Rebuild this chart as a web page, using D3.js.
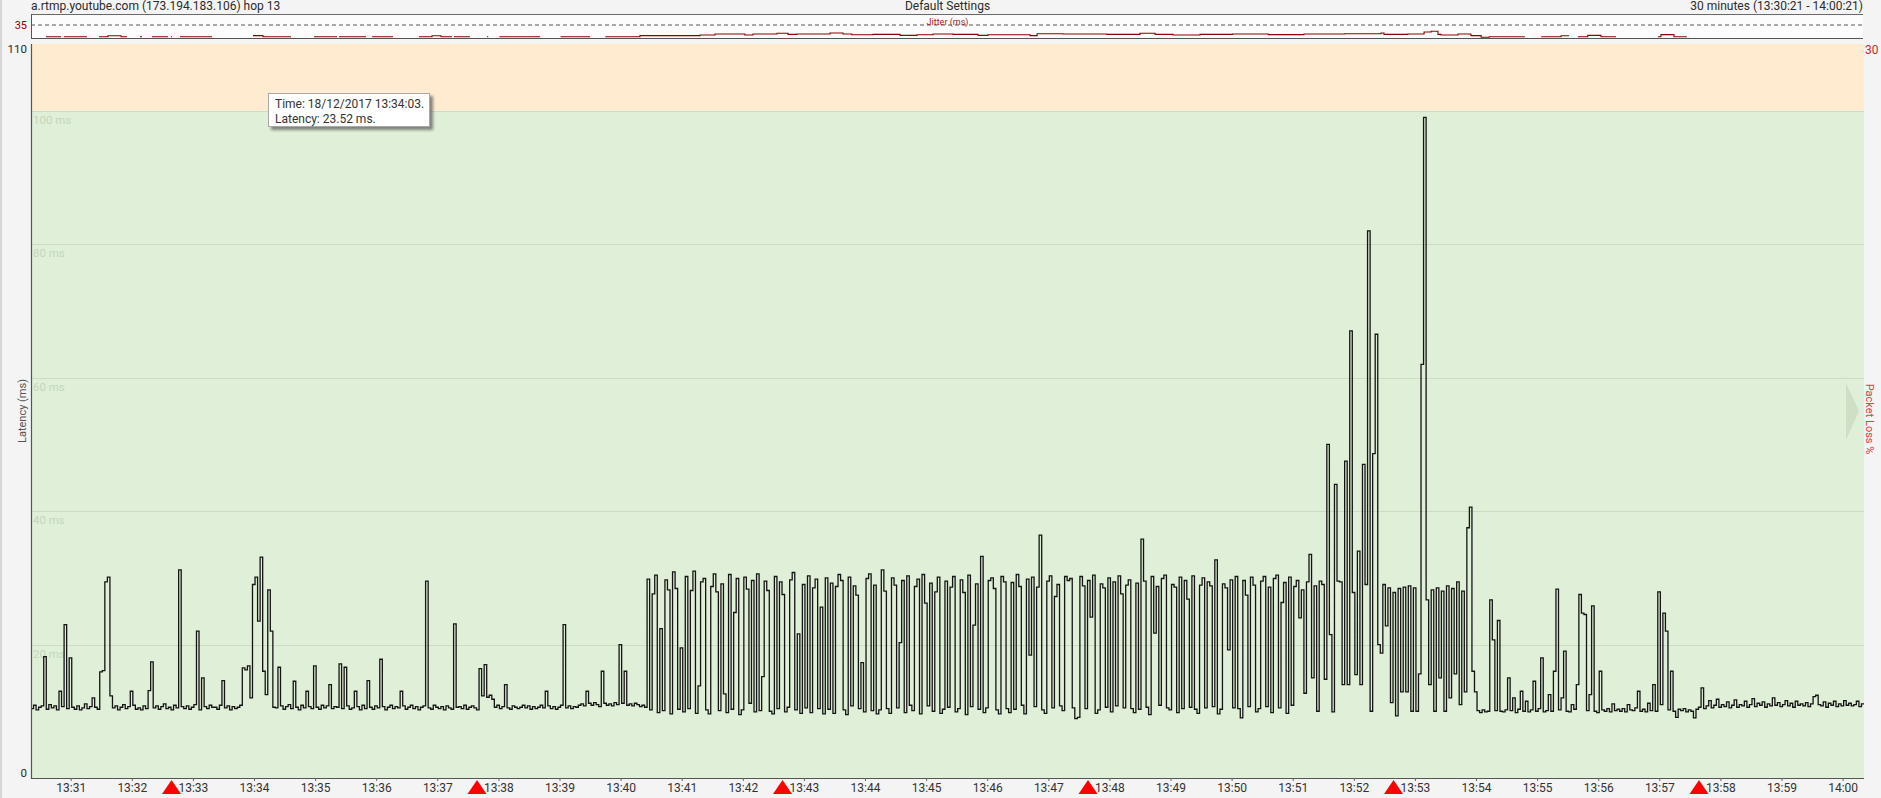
<!DOCTYPE html>
<html>
<head>
<meta charset="utf-8">
<script src="https://cdn.jsdelivr.net/npm/d3@7"></script>
<style>
  html, body { margin: 0; padding: 0; background: #f4f4f4; }
  svg { display: block; font-family: Roboto, "Noto Sans", sans-serif; }
</style>
</head>
<body>
<svg id="chart" width="1881" height="798"></svg>
<script>
// latency samples, one row per minute starting 13:30:21 (2.5 s steps)
const latencyA = [
  [10.4,10.9,10.2,10.6,10.8,18.2,10.3,11.0,10.5,10.8,10.2,13.0,10.7,23.0,10.4,18.0,10.6,10.3,10.8,10.2,10.5,11.1,10.4,10.7],
  [12.0,10.6,10.3,15.9,16.1,29.4,30.1,12.3,10.5,10.8,10.2,10.6,11.0,10.4,10.7,13.0,10.9,10.3,10.5,10.2,10.8,10.4,13.1,17.4],
  [10.5,10.8,10.3,10.7,11.1,10.4,10.6,10.2,10.9,10.5,31.2,10.7,10.4,10.8,10.3,10.6,11.0,22.0,10.2,15.0,10.7,10.4,10.9,10.6],
  [10.6,10.3,10.9,14.6,10.5,10.8,10.2,10.7,10.4,10.6,10.9,16.5,16.2,16.8,12.0,29.0,30.1,23.52,33.1,16.0,12.5,28.2,22.0,10.6],
  [10.5,16.6,10.8,10.3,10.7,11.0,10.4,14.5,10.6,10.2,10.9,10.5,13.0,10.7,10.4,16.8,10.6,10.3,10.9,10.5,10.8,14.0,10.4,10.7],
  [10.6,17.1,10.4,16.6,10.8,10.3,10.5,13.0,10.7,10.2,10.9,10.4,14.6,10.6,10.3,10.8,10.5,17.8,10.7,10.2,10.6,10.9,10.4,10.7],
  [10.5,13.0,10.8,10.3,10.6,10.9,10.4,10.7,10.2,10.6,10.8,29.5,10.5,10.3,10.9,10.6,10.4,10.7,10.2,10.8,10.5,10.3,23.1,10.6],
  [10.7,10.4,10.9,10.3,10.6,10.8,10.5,10.2,16.4,12.3,17.0,12.1,12.4,11.8,10.6,10.9,10.4,10.7,14.0,10.5,10.3,10.8,10.6,10.4],
  [10.6,10.9,10.5,10.8,10.3,10.7,10.4,10.6,10.9,10.5,13.0,10.8,10.4,10.7,10.3,10.6,10.9,23.0,10.5,10.8,10.4,10.7,10.6,10.9],
  [11.1,10.8,13.0,11.2,10.9,11.3,11.0,10.7,16.0,11.2,10.9,11.1,10.8,11.3,11.0,20.0,11.2,16.0,10.9,11.1,10.8,11.2,11.0,10.7]
];
const latencyB = [
  [10.9,10.6,29.8,10.2,27.6,30.4,9.8,22.4,10.1,29.7,28.2,9.6,30.9,28.4,10.3,19.5,9.9,30.2,10.4,28.1,31.0,9.7,13.8,29.4],
  [29.9,10.2,9.6,28.7,30.6,27.9,10.1,29.1,12.6,9.8,30.5,10.3,24.8,29.9,9.5,10.2,30.1,28.3,11.2,29.6,9.9,30.6,10.1,15.2],
  [29.5,28.1,10.0,9.6,30.2,10.4,29.4,27.5,9.9,10.6,29.7,30.8,10.2,21.6,9.7,29.0,10.5,30.3,9.8,28.5,29.8,10.4,25.6,9.6],
  [30.0,10.3,29.2,9.7,28.7,30.5,29.6,10.2,9.5,30.1,10.8,28.8,27.4,10.4,17.3,9.9,29.9,30.6,10.1,28.9,9.6,10.2,31.2,28.0],
  [10.4,9.7,30.0,28.9,10.5,20.3,29.6,9.8,30.3,10.9,10.1,28.7,29.8,9.6,30.5,26.2,10.8,29.2,10.0,27.9,30.1,9.7,10.3,29.5],
  [10.6,28.6,30.2,9.9,10.4,29.7,27.8,9.5,30.4,10.7,22.9,29.1,10.3,33.2,9.8,10.5,29.6,30.0,28.4,10.2,9.6,30.2,29.4,10.4],
  [9.8,29.3,10.3,30.5,28.7,10.9,9.6,29.8,18.4,30.1,10.7,28.6,36.4,10.2,9.7,29.5,30.3,10.5,27.2,29.0,10.8,10.1,30.2,29.6],
  [29.9,10.5,8.9,9.1,30.2,28.8,10.4,29.6,24.1,30.4,9.7,10.2,29.1,28.5,10.6,30.0,9.9,29.4,10.8,30.3,27.6,10.5,28.9,29.7],
  [10.4,9.8,29.2,10.3,35.8,29.5,10.6,9.5,30.2,21.7,28.7,10.9,29.9,30.4,10.5,10.2,29.0,28.6,9.8,30.1,10.4,29.6,26.8,10.6],
  [30.3,10.3,9.7,28.9,30.0,10.5,29.4,28.8,10.7,32.7,9.6,10.3,29.1,28.5,19.2,29.7,10.5,30.2,10.4,9.0,29.6,27.4,10.7,30.1]
];
const latencyC = [
  [28.9,9.9,10.4,29.5,30.2,10.7,28.6,9.8,29.9,30.4,10.5,26.3,29.3,9.7,30.1,10.9,28.7,29.6,24.0,28.2,12.7,29.4,33.5,15.0],
  [28.8,10.0,29.5,29.0,14.8,50.0,21.5,9.9,44.0,29.5,29.4,14.0,47.5,14.0,67.0,27.8,15.5,34.0,14.0,47.0,29.0,82.0,10.0,48.6],
  [66.5,20.0,18.7,29.0,22.8,28.5,11.3,27.8,9.3,28.4,12.9,28.6,12.9,28.8,10.0,28.5,10.0,15.6,62.0,99.0,26.7,14.0,28.2,10.0],
  [28.5,15.0,28.0,10.0,28.8,12.0,28.4,15.6,29.4,11.0,28.0,12.9,37.5,40.6,16.0,12.9,10.1,9.8,10.2,9.9,10.0,26.7,20.7,10.1],
  [23.6,10.0,9.9,10.2,15.0,10.1,12.0,9.8,10.3,13.0,10.0,11.5,9.9,10.2,14.5,10.0,10.4,18.0,9.9,10.1,12.5,10.0,16.0,28.3],
  [10.2,12.0,19.0,10.0,9.9,11.0,10.3,14.0,27.5,24.7,24.5,10.1,12.5,25.8,10.0,9.8,16.0,10.2,10.0,10.4,9.9,11.1,10.1,10.3],
  [10.0,10.4,9.9,11.0,10.2,10.1,10.5,13.0,10.0,10.3,9.9,11.2,10.1,14.0,10.0,27.9,11.0,24.7,22.0,10.2,16.0,10.0,9.1,10.3],
  [10.1,10.4,9.9,10.2,10.0,9.0,10.3,10.6,13.5,10.4,10.8,11.6,10.5,10.9,11.8,10.6,11.0,10.7,11.4,10.5,10.9,11.7,10.6,11.0],
  [10.8,11.5,10.6,11.0,11.9,10.7,11.2,10.9,11.4,10.6,11.1,10.8,12.0,10.9,11.3,10.7,11.0,11.6,10.8,11.2,10.6,11.5,10.9,11.1],
  [10.8,11.3,10.7,11.1,12.2,12.4,11.0,10.8,11.4,10.6,11.2,10.9,11.5,10.7,11.1,10.8,11.6,10.9,11.2,10.8,11.0,11.5,10.7,11.1]
];

// jitter change points: seconds after 13:30:21, value in ms (null = no line)
const jitterSec = [0,14.7,29.5,32.4,55,66.8,75.6,88.4,94.3,107,109,118.8,134.5,137.5,138.5,146.3,177.7,218,227.8,255.3,278,300.5,302.5,329,335,355.5,381,393.8,402.6,413.4,415.4,431,447.8,449,460,500,520,549,564,598,657,671.7,701,709,732.6,743.4,752,784.6,797.4,806,826.8,853.4,870,885.8,905.4,930,939.8,981,988,1013.4,1056.6,1089,1103.8,1121.4,1148,1180,1215,1250,1290,1325.7,1328.6,1352,1368,1375,1381.6,1384.6,1401.3,1414,1424,1432,1467,1483,1502.5,1510.4,1519,1528.7,1541.7,1556.5,1597.7,1600.6,1613.4,1626,1800];
const jitterVal = [null,3.5,null,3.5,null,3.5,6,3.5,null,3.5,null,3.5,null,3.5,null,3.5,null,6.5,3.5,null,3.5,null,3.5,null,3.5,null,3.5,6,3.5,null,3.5,null,3.5,null,3.5,null,3.5,null,3.5,6.5,8,10.8,8,10.8,12.6,9.7,10.8,13.5,10.8,8.9,9.7,7.2,8.9,10.8,9.7,7.2,8.9,6.3,11.6,10.8,9.7,12.6,9.7,8,9.7,10.8,9.0,10.8,11.6,13.5,9.7,10.8,16,18,9.7,8,10.8,6.3,2,3.5,null,3.5,6,null,3.5,7.2,3.5,null,3.5,9,3.5,null,null];

const lossTimes = ["13:32:39", "13:37:39", "13:42:39", "13:47:39", "13:52:39", "13:57:39"];
const gridValues = [20, 40, 60, 80, 100];
const yLabelValues = [0, 110];

const W = 1881, H = 798;
const plot = { left: 31, right: 1864, top: 44, bottom: 778 };
const strip = { top: 14, bottom: 38, dash: 25 };

const t0 = new Date(2017, 11, 18, 13, 30, 21);
const t1 = new Date(2017, 11, 18, 14, 0, 21);
const parseT = d3.timeParse("%Y-%m-%d %H:%M:%S");

const x = d3.scaleTime().domain([t0, t1]).range([plot.left, plot.right]);
const y = d3.scaleLinear().domain([0, 110]).range([plot.bottom, plot.top]);
const yJ = d3.scaleLinear().domain([0, 35]).range([strip.bottom, strip.dash]);

const svg = d3.select("#chart");
const defs = svg.append("defs");
defs.append("clipPath").attr("id", "plotClip")
  .append("rect")
  .attr("x", plot.left).attr("y", plot.top)
  .attr("width", plot.right - plot.left).attr("height", plot.bottom - plot.top);
defs.append("filter").attr("id", "shadow")
  .attr("x", "-10%").attr("y", "-20%").attr("width", "130%").attr("height", "160%")
  .append("feGaussianBlur").attr("stdDeviation", 1.6);

// page edge
svg.append("rect").attr("x", 0).attr("y", 0).attr("width", 2).attr("height", H).attr("fill", "#d6d6d6");

// header
const header = svg.append("g").style("font-size", "12px").attr("fill", "#2b2b2b");
header.append("text").attr("x", plot.left).attr("y", 10).text("a.rtmp.youtube.com (173.194.183.106) hop 13");
header.append("text").attr("x", (plot.left + plot.right) / 2).attr("y", 10)
  .attr("text-anchor", "middle").text("Default Settings");
header.append("text").attr("x", plot.right - 1).attr("y", 10)
  .attr("text-anchor", "end").text("30 minutes (13:30:21 - 14:00:21)");

// jitter strip
svg.append("rect")
  .attr("x", plot.left).attr("y", strip.top)
  .attr("width", plot.right - 1 - plot.left).attr("height", strip.bottom - strip.top)
  .attr("fill", "#fcfcfc");
svg.append("line")
  .attr("x1", plot.left).attr("x2", plot.right - 1)
  .attr("y1", yJ(35)).attr("y2", yJ(35))
  .attr("stroke", "#555").attr("stroke-dasharray", "4,3");
svg.append("text")
  .attr("x", (plot.left + plot.right) / 2).attr("y", 25)
  .attr("text-anchor", "middle").style("font-size", "9px").attr("fill", "#9b1c1c")
  .text("Jitter (ms)");
svg.append("text")
  .attr("x", 27).attr("y", yJ(35) + 4)
  .attr("text-anchor", "end").style("font-size", "11px").attr("fill", "#8b0000")
  .text("35");

const jitterPts = [];
jitterSec.forEach((s, i) => {
  const v = jitterVal[i];
  if (v == null || i === jitterSec.length - 1) {
    jitterPts.push({ s, v: null });
  } else {
    jitterPts.push({ s, v });
    jitterPts.push({ s: jitterSec[i + 1], v });
  }
});
const jitterLine = d3.line()
  .defined(d => d.v != null)
  .x(d => x(new Date(+t0 + d.s * 1000)))
  .y(d => yJ(d.v));
svg.append("path")
  .datum(jitterPts)
  .attr("d", jitterLine)
  .attr("fill", "none").attr("stroke", "#8b0000").attr("stroke-width", 1.1);

svg.append("line").attr("x1", plot.left).attr("x2", plot.right - 1)
  .attr("y1", strip.top + 0.5).attr("y2", strip.top + 0.5).attr("stroke", "#6a6a6a");
svg.append("line").attr("x1", plot.left).attr("x2", plot.right - 1)
  .attr("y1", strip.bottom + 0.5).attr("y2", strip.bottom + 0.5).attr("stroke", "#555");
svg.append("line").attr("x1", plot.left + 0.5).attr("x2", plot.left + 0.5)
  .attr("y1", strip.top).attr("y2", strip.bottom + 1).attr("stroke", "#555");

// plot background bands
svg.append("rect")
  .attr("x", plot.left).attr("y", y(110))
  .attr("width", plot.right - plot.left).attr("height", y(100) - y(110))
  .attr("fill", "#ffebcf");
svg.append("rect")
  .attr("x", plot.left).attr("y", y(100))
  .attr("width", plot.right - plot.left).attr("height", y(0) - y(100))
  .attr("fill", "#e0efd7");

// grid
svg.append("g").selectAll("line").data(gridValues).join("line")
  .attr("x1", plot.left).attr("x2", plot.right)
  .attr("y1", d => Math.round(y(d)) + 0.5).attr("y2", d => Math.round(y(d)) + 0.5)
  .attr("stroke", "#cbdcc3");
svg.append("g").selectAll("text").data(gridValues).join("text")
  .attr("x", plot.left + 2).attr("y", d => y(d) + 13)
  .style("font-size", "11.5px").attr("fill", "#c4d6bb")
  .text(d => `${d} ms`);

// packet loss arrow
const arrowY = (plot.top + plot.bottom) / 2;
svg.append("path")
  .attr("d", `M${plot.right - 18},${arrowY - 28} L${plot.right - 5},${arrowY} L${plot.right - 18},${arrowY + 29} Z`)
  .attr("fill", "#cfdfc6");

// latency line
const samples = [];
latencyA.concat(latencyB, latencyC).forEach((row, k) => {
  row.forEach((v, j) => {
    samples.push({ t: new Date(+t0 + (k * 60 + j * 60 / row.length) * 1000), v });
  });
});
samples.push({ t: t1, v: samples[samples.length - 1].v });

const latencyLine = d3.line()
  .x(d => x(d.t))
  .y(d => y(d.v))
  .curve(d3.curveStepAfter);
svg.append("path")
  .datum(samples)
  .attr("clip-path", "url(#plotClip)")
  .attr("d", latencyLine)
  .attr("fill", "none").attr("stroke", "#141414").attr("stroke-width", 1.3);

// axes lines
svg.append("line").attr("x1", plot.left + 0.5).attr("x2", plot.left + 0.5)
  .attr("y1", plot.top).attr("y2", plot.bottom + 1).attr("stroke", "#555").attr("stroke-width", 1.2);
svg.append("line").attr("x1", plot.left).attr("x2", plot.right)
  .attr("y1", plot.bottom + 0.5).attr("y2", plot.bottom + 0.5).attr("stroke", "#555").attr("stroke-width", 1.2);

// y labels
const yAxis = svg.append("g")
  .attr("transform", `translate(${plot.left - 4},0)`)
  .call(d3.axisLeft(y).tickValues(yLabelValues).tickSize(0).tickPadding(0));
yAxis.select(".domain").remove();
yAxis.selectAll("text")
  .style("font-size", "11.5px").style("font-family", "Roboto, 'Noto Sans', sans-serif")
  .attr("fill", "#2b2b2b")
  .attr("dy", d => d === 0 ? "-0.1em" : "0.75em");

svg.append("text")
  .attr("transform", `translate(26,${arrowY}) rotate(-90)`)
  .attr("text-anchor", "middle").style("font-size", "11px").attr("fill", "#555")
  .text("Latency (ms)");

// x axis
const xAxis = svg.append("g")
  .attr("transform", `translate(0,${plot.bottom})`)
  .call(d3.axisBottom(x)
    .ticks(d3.timeMinute.every(1))
    .tickFormat(d3.timeFormat("%H:%M"))
    .tickSize(3).tickPadding(2));
xAxis.select(".domain").remove();
xAxis.selectAll("line").attr("stroke", "#666");
xAxis.selectAll("text")
  .style("font-size", "12px").style("font-family", "Roboto, 'Noto Sans', sans-serif")
  .attr("fill", "#333");

// packet loss markers
svg.append("g").selectAll("path").data(lossTimes).join("path")
  .attr("d", d => {
    const cx = x(parseT("2017-12-18 " + d));
    return `M${cx - 9.5},${plot.bottom + 16} L${cx + 9.5},${plot.bottom + 16} L${cx},${plot.bottom + 2} Z`;
  })
  .attr("fill", "#ff0000");

// right labels
svg.append("text")
  .attr("x", plot.right + 1).attr("y", y(110) + 10)
  .style("font-size", "12px").attr("fill", "#c8282a")
  .text("30");
svg.append("text")
  .attr("transform", `translate(${plot.right + 2},${arrowY + 8}) rotate(90)`)
  .attr("text-anchor", "middle").style("font-size", "11px").attr("fill", "#d9413f")
  .text("Packet Loss %");

// tooltip
const tip = svg.append("g").attr("transform", "translate(268,93)");
tip.append("rect")
  .attr("x", 3).attr("y", 3).attr("width", 162).attr("height", 34)
  .attr("fill", "#555").attr("opacity", 0.7).attr("filter", "url(#shadow)");
tip.append("rect")
  .attr("x", 0.5).attr("y", 0.5).attr("width", 161).attr("height", 33)
  .attr("fill", "#ffffff").attr("stroke", "#a8a8a8");
tip.append("text").attr("x", 7).attr("y", 14.5)
  .style("font-size", "12px").attr("fill", "#333")
  .text("Time: 18/12/2017 13:34:03.");
tip.append("text").attr("x", 7).attr("y", 29.5)
  .style("font-size", "12px").attr("fill", "#333")
  .text("Latency: 23.52 ms.");
</script>
</body>
</html>
